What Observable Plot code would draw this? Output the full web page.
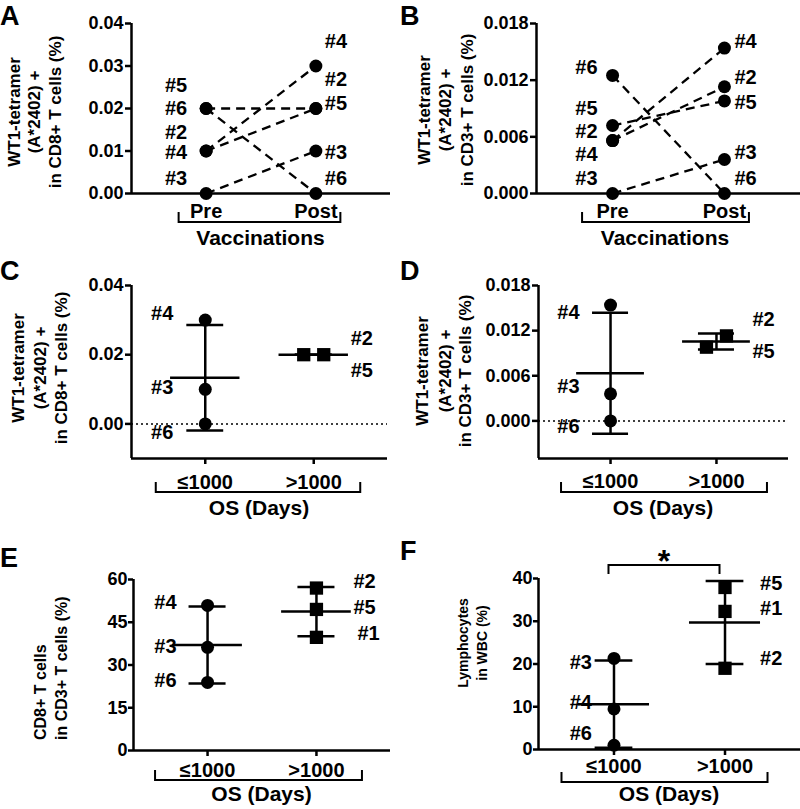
<!DOCTYPE html>
<html><head><meta charset="utf-8">
<script src="https://cdn.jsdelivr.net/npm/d3@7"></script>
<script src="https://cdn.jsdelivr.net/npm/@observablehq/plot@0.6"></script>
<style>
body{margin:0;background:#fff;}
#fig{position:relative;width:800px;height:809px;overflow:hidden;background:#fff;}
#fig svg{position:absolute;}
</style></head><body><div id="fig"></div>
<script>
// ---------------- DATA ----------------
const groupsVacc = ["Pre", "Post"];
const groupsOS = ["≤1000", ">1000"];

// Panels A & B: patients followed pre/post vaccination
const patientsAB = ["#2", "#3", "#4", "#5", "#6"];
const tetCD8Pre  = [0.01, 0.00, 0.01, 0.02, 0.02];
const tetCD8Post = [0.02, 0.01, 0.03, 0.02, 0.00];
const tetCD3Pre  = [0.0056, 0.0000, 0.0056, 0.0072, 0.0125];
const tetCD3Post = [0.0113, 0.0036, 0.0154, 0.0098, 0.0000];

// Panels C & D: by overall survival
const osShortIdsCD = ["#4", "#3", "#6"];
const osLongIdsCD  = ["#5", "#2"];
const tetCD8Short = [0.03, 0.01, 0.00];
const tetCD8Long  = [0.02, 0.02];
const tetCD3Short = [0.0154, 0.0036, 0.0000];
const tetCD3Long  = [0.0098, 0.0113];

// Panel E: CD8+ T cells in CD3+ T cells (%)
const osShortIdsE = ["#4", "#3", "#6"];
const osLongIdsE  = ["#2", "#5", "#1"];
const cd8Short = [50.9, 36.2, 23.9];
const cd8Long  = [57.0, 49.5, 39.7];

// Panel F: Lymphocytes in WBC (%)
const osShortIdsF = ["#3", "#4", "#6"];
const osLongIdsF  = ["#5", "#1", "#2"];
const lymShort = [21.3, 9.5, 1.0];
const lymLong  = [37.9, 32.3, 19.0];

// Tick values
const ticksA = [0, 0.01, 0.02, 0.03, 0.04];
const ticksB = [0, 0.006, 0.012, 0.018];
const ticksC = [0, 0.02, 0.04];
const ticksD = [0, 0.006, 0.012, 0.018];
const ticksE = [0, 15, 30, 45, 60];
const ticksF = [0, 10, 20, 30, 40];

// ---------------- LAYOUT / DRAWING ----------------
const FONT = '"Liberation Sans", Arial, Helvetica, sans-serif';
const fig = document.getElementById("fig");
const XD = [-0.68, 1.68];
const SW = 2.5;

function labelMarks(items) {
  return items.map(l => Plot.text([l], {
    x: "g", y: "v", text: "id", dx: l.dx, dy: l.dy,
    textAnchor: l.dx < 0 ? "end" : "start", fontSize: 20, fontWeight: "bold", fill: "black"
  }));
}
function lab(ids, vals, g, dx, dys) {
  return ids.map((id, i) => ({id, v: vals[i], g, dx: Array.isArray(dx) ? dx[i] : dx, dy: dys[i]}));
}
function summaryMarks(g, vals) {
  const m = d3.mean(vals), s = d3.deviation(vals) || 0;
  const hm = 0.32, hc = 0.17;
  return [
    Plot.ruleX([{g, lo: m - s, hi: m + s}], {x: "g", y1: "lo", y2: "hi", strokeWidth: SW}),
    Plot.ruleY([{g, v: m}], {y: "v", x1: d => d.g - hm, x2: d => d.g + hm, strokeWidth: SW}),
    Plot.ruleY([{g, v: m - s}, {g, v: m + s}], {y: "v", x1: d => d.g - hc, x2: d => d.g + hc, strokeWidth: SW})
  ];
}

function makePanel(c) {
  const marks = [];
  if (c.zeroDotted) marks.push(Plot.ruleY([0], {strokeDasharray: "2,3", strokeWidth: 1.5}));
  marks.push(Plot.ruleY([c.yDomain[0]], {strokeWidth: SW}));
  marks.push(Plot.ruleX([XD[0]], {strokeWidth: SW}));
  marks.push(Plot.axisY({ticks: c.yTicks, tickFormat: c.yFormat, tickSize: c.yTickSize, tickPadding: c.yTickPadding,
    fontSize: 18, fontWeight: "bold", strokeWidth: SW, label: null}));
  marks.push(Plot.axisX({ticks: [0, 1], tickFormat: d => c.groups[d], tickSize: c.xTickSize, tickPadding: c.xTickPadding,
    fontSize: 20, fontWeight: "bold", strokeWidth: SW, label: null}));
  marks.push(...c.marks);
  const svg = Plot.plot({
    width: 400, height: c.h,
    marginLeft: c.ml, marginRight: c.mr, marginTop: c.mt, marginBottom: c.mb,
    x: {domain: XD}, y: {domain: c.yDomain},
    style: {fontFamily: FONT, fontWeight: "bold", color: "black", background: "transparent", overflow: "visible"},
    marks
  });
  svg.style.left = c.left + "px";
  svg.style.top = c.top + "px";
  const sx = svg.scale("x");
  const x0 = sx.apply(0), x1 = sx.apply(1);
  const s = d3.select(svg);
  // bracket under group labels
  const xa = x0 + c.br[0], xb = x1 + c.br[1];
  s.append("path").attr("d", `M${xa},${c.brY - 10}V${c.brY}H${xb}V${c.brY - 10}`)
    .attr("fill", "none").attr("stroke", "black").attr("stroke-width", 2);
  s.append("text").attr("x", (x0 + x1) / 2 + (c.titleDx || 0)).attr("y", c.titleY).attr("text-anchor", "middle")
    .attr("font-size", 21).attr("font-weight", "bold").attr("font-family", FONT).attr("fill", "black").text(c.xTitle);
  // y title (rotated)
  c.yTitle.forEach((line, i) => {
    s.append("text")
      .attr("transform", `translate(${c.yTitleX[i]},${c.yTitleY}) rotate(-90)`)
      .attr("dy", "0.35em").attr("text-anchor", c.yTitleAnchor || "middle")
      .attr("font-size", c.yTitleSize || 17).attr("font-weight", "bold").attr("font-family", FONT).attr("fill", "black")
      .text(line);
  });
  if (c.extra) c.extra(s, x0, x1);
  fig.appendChild(svg);
}

// ---- Panel A ----
const rowsA = patientsAB.map((id, i) => ({id, pre: tetCD8Pre[i], post: tetCD8Post[i]}));
makePanel({
  left: 0, top: 0, h: 270, ml: 131, mr: 10, mt: 23, mb: 77,
  yDomain: [0, 0.04], yTicks: ticksA, yFormat: d3.format(".2f"), yTickSize: 6, yTickPadding: 2,
  groups: groupsVacc, xTickSize: 0, xTickPadding: 10,
  br: [-27, 25], brY: 222, xTitle: "Vaccinations", titleY: 245,
  yTitle: ["WT1-tetramer", "(A*2402) +", "in CD8+ T cells (%)"], yTitleX: [14, 34, 55], yTitleY: 112,
  marks: [
    Plot.link(rowsA, {x1: () => 0, y1: "pre", x2: () => 1, y2: "post", strokeDasharray: "9,6", strokeWidth: 2.3}),
    Plot.dot(rowsA, {x: () => 0, y: "pre", r: 6.5, fill: "black"}),
    Plot.dot(rowsA, {x: () => 1, y: "post", r: 6.5, fill: "black"}),
    ...labelMarks([
      ...lab(["#5", "#6", "#2", "#4", "#3"], [0.02, 0.02, 0.01, 0.01, 0], 0, -19, [-23, 0, -18, 2, -15]),
      ...lab(["#4", "#2", "#5", "#3", "#6"], [0.03, 0.02, 0.02, 0.01, 0], 1, 9, [-24, -29, -5, 2, -15])
    ])
  ]
});

// ---- Panel B ----
const rowsB = patientsAB.map((id, i) => ({id, pre: tetCD3Pre[i], post: tetCD3Post[i]}));
makePanel({
  left: 400, top: 0, h: 270, ml: 136, mr: 0, mt: 23, mb: 77,
  yDomain: [0, 0.018], yTicks: ticksB, yFormat: d3.format(".3f"), yTickSize: 6, yTickPadding: 2,
  groups: groupsVacc, xTickSize: 0, xTickPadding: 10,
  br: [-30, 25], brY: 222, xTitle: "Vaccinations", titleY: 245, titleDx: -3,
  yTitle: ["WT1-tetramer", "(A*2402) +", "in CD3+ T cells (%)"], yTitleX: [24, 45, 67], yTitleY: 110,
  marks: [
    Plot.link(rowsB, {x1: () => 0, y1: "pre", x2: () => 1, y2: "post", strokeDasharray: "9,6", strokeWidth: 2.3}),
    Plot.dot(rowsB, {x: () => 0, y: "pre", r: 6.5, fill: "black"}),
    Plot.dot(rowsB, {x: () => 1, y: "post", r: 6.5, fill: "black"}),
    ...labelMarks([
      ...lab(["#6", "#5", "#2", "#4", "#3"], [0.0125, 0.0072, 0.0056, 0.0056, 0], 0, -15, [-8, -17, -9, 14, -15]),
      ...lab(["#4", "#2", "#5", "#3", "#6"], [0.0154, 0.0113, 0.0098, 0.0036, 0], 1, 10, [-6, -9, 2, -7, -15])
    ])
  ]
});

// ---- Panel C ----
makePanel({
  left: 0, top: 270, h: 270, ml: 131, mr: 13, mt: 15, mb: 82,
  yDomain: [-0.01, 0.04], yTicks: ticksC, yFormat: d3.format(".2f"), yTickSize: 6, yTickPadding: 2, zeroDotted: true,
  groups: groupsOS, xTickSize: 6, xTickPadding: 10,
  br: [-49, 47], brY: 222, xTitle: "OS (Days)", titleY: 245,
  yTitle: ["WT1-tetramer", "(A*2402) +", "in CD8+ T cells (%)"], yTitleX: [18, 40, 61], yTitleY: 98,
  marks: [
    ...summaryMarks(0, tetCD8Short),
    ...summaryMarks(1, tetCD8Long),
    Plot.dot(tetCD8Short, {x: () => 0, y: d => d, r: 6.5, fill: "black"}),
    Plot.dot([tetCD8Long[0]], {x: () => 1, y: d => d, dx: -10, r: 7.5, symbol: "square", fill: "black"}),
    Plot.dot([tetCD8Long[1]], {x: () => 1, y: d => d, dx: 10, r: 7.5, symbol: "square", fill: "black"}),
    ...labelMarks([
      ...lab(osShortIdsCD, tetCD8Short, 0, -32, [-7, -2, 9]),
      ...lab(["#2", "#5"], [tetCD8Long[1], tetCD8Long[0]], 1, 37, [-16, 16])
    ])
  ]
});

// ---- Panel D ----
makePanel({
  left: 400, top: 270, h: 270, ml: 138, mr: 12, mt: 15, mb: 82,
  yDomain: [-0.005, 0.018], yTicks: ticksD, yFormat: d3.format(".3f"), yTickSize: 6, yTickPadding: 2, zeroDotted: true,
  groups: groupsOS, xTickSize: 6, xTickPadding: 9,
  br: [-49, 51], brY: 222, xTitle: "OS (Days)", titleY: 245,
  yTitle: ["WT1-tetramer", "(A*2402) +", "in CD3+ T cells (%)"], yTitleX: [22, 45, 65], yTitleY: 101,
  marks: [
    ...summaryMarks(0, tetCD3Short),
    ...summaryMarks(1, tetCD3Long),
    Plot.dot(tetCD3Short, {x: () => 0, y: d => d, r: 6.5, fill: "black"}),
    Plot.dot([tetCD3Long[0]], {x: () => 1, y: d => d, dx: -10, r: 7.5, symbol: "square", fill: "black"}),
    Plot.dot([tetCD3Long[1]], {x: () => 1, y: d => d, dx: 10, r: 7.5, symbol: "square", fill: "black"}),
    ...labelMarks([
      ...lab(osShortIdsCD, tetCD3Short, 0, -31, [8, -7, 6]),
      ...lab(["#2", "#5"], [tetCD3Long[1], tetCD3Long[0]], 1, 36, [-16, 4])
    ])
  ]
});

// ---- Panel E ----
makePanel({
  left: 0, top: 540, h: 269, ml: 133, mr: 10, mt: 39, mb: 59,
  yDomain: [0, 60], yTicks: ticksE, yFormat: d3.format("d"), yTickSize: 5, yTickPadding: 1,
  groups: groupsOS, xTickSize: 6, xTickPadding: 6,
  br: [-52, 46], brY: 240, xTitle: "OS (Days)", titleY: 261,
  yTitle: ["CD8+ T cells", "in CD3+ T cells (%)"], yTitleX: [40, 61], yTitleY: 200, yTitleAnchor: "start",
  yTitleSize: 16,
  marks: [
    ...summaryMarks(0, cd8Short),
    ...summaryMarks(1, cd8Long),
    Plot.dot(cd8Short, {x: () => 0, y: d => d, r: 6.5, fill: "black"}),
    Plot.dot(cd8Long, {x: () => 1, y: d => d, r: 7.5, symbol: "square", fill: "black"}),
    ...labelMarks([
      ...lab(osShortIdsE, cd8Short, 0, -31, [-3, -1, -2]),
      ...lab(osLongIdsE, cd8Long, 1, [37, 37, 41], [-6, -2, -4])
    ])
  ]
});

// ---- Panel F ----
makePanel({
  left: 400, top: 540, h: 269, ml: 138, mr: 0, mt: 38, mb: 60,
  yDomain: [0, 40], yTicks: ticksF, yFormat: d3.format("d"), yTickSize: 5, yTickPadding: 1,
  groups: groupsOS, xTickSize: 6, xTickPadding: 3,
  br: [-52, 43], brY: 242, xTitle: "OS (Days)", titleY: 261,
  yTitle: ["Lymphocytes", "in WBC (%)"], yTitleX: [63, 82], yTitleY: 103, yTitleSize: 14,
  marks: [
    ...summaryMarks(0, lymShort),
    ...summaryMarks(1, lymLong),
    Plot.dot(lymShort, {x: () => 0, y: d => d, r: 6.5, fill: "black"}),
    Plot.dot(lymLong, {x: () => 1, y: d => d, r: 7.5, symbol: "square", fill: "black"}),
    ...labelMarks([
      ...lab(osShortIdsF, lymShort, 0, -22, [4, -6, -12]),
      ...lab(osLongIdsF, lymLong, 1, 35, [-4, -3, -10])
    ])
  ],
  extra: (s, x0, x1) => {
    const a = x0 - 5, b = x1 - 5;
    s.append("path").attr("d", `M${a},34V25H${b}V34`).attr("fill", "none").attr("stroke", "black").attr("stroke-width", 2);
    s.append("text").attr("x", (a + b) / 2).attr("y", 32).attr("text-anchor", "middle")
      .attr("font-size", 32).attr("font-weight", "bold").attr("font-family", FONT).attr("fill", "black").text("*");
  }
});

// ---- Panel letters ----
const letters = d3.create("svg").attr("width", 800).attr("height", 809).style("left", "0px").style("top", "0px")
  .style("pointer-events", "none");
[["A", 0, 25], ["B", 400, 25], ["C", 0, 280], ["D", 400, 280], ["E", 0, 567], ["F", 400, 560]].forEach(([t, x, y]) => {
  letters.append("text").attr("x", x).attr("y", y).attr("font-size", 27).attr("font-weight", "bold")
    .attr("font-family", FONT).attr("fill", "black").text(t);
});
fig.appendChild(letters.node());
</script>
</body></html>
